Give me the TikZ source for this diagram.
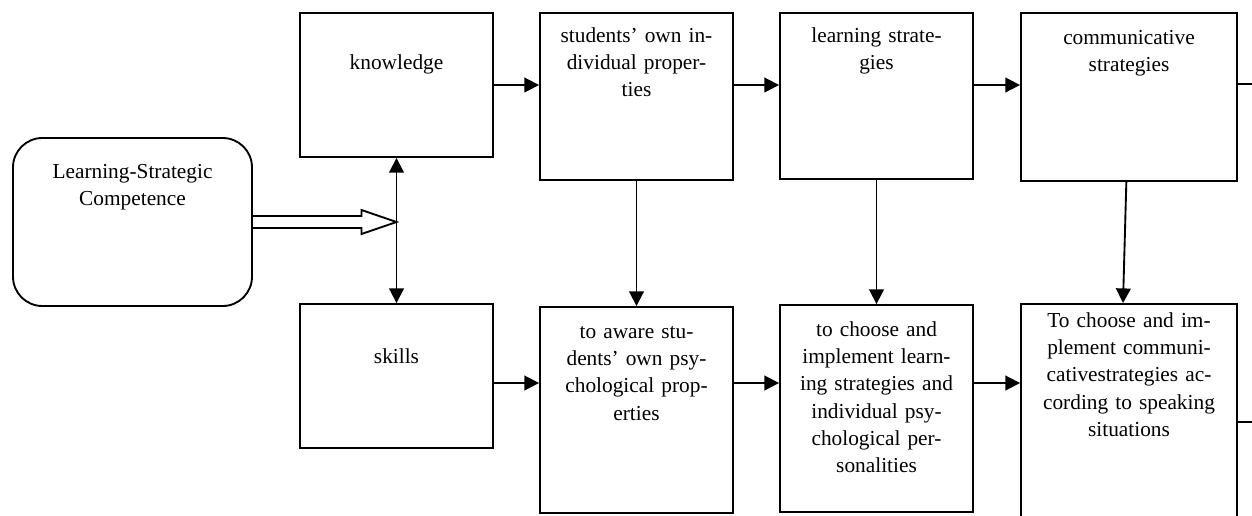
\documentclass[tikz,border=0pt]{standalone}
\usepackage{fontspec}
\setmainfont{Liberation Serif}
\usetikzlibrary{arrows.meta,positioning}
\tikzset{
  box/.style={draw, line width=1.4pt, minimum width=144.75pt, inner sep=0pt},
  txt/.style={text width=150pt, align=center, inner sep=0pt,
    font=\fontsize{16}{20.5}\selectfont, execute at begin node=\strut},
  arr/.style={line width=1.4pt, -{Triangle[length=11pt,width=11pt]}},
  darr/.style={line width=1.4pt, {Triangle[length=11pt,width=11pt]}-{Triangle[length=11pt,width=11pt]}},
}
\begin{document}
\begin{tikzpicture}[x=0.75pt, y=-0.75pt]
    \clip (0,0) rectangle (1252,515);
    \node[box, rounded corners=22pt, minimum width=179.25pt, minimum height=126pt] (LSC) at (132.5,222) {};
    \node[box, minimum height=108pt] (K) at (396.5,85) {};
    \node[box, minimum height=108pt] (S) at (396.5,376) {};
    \node[box, minimum height=125.25pt] (SP) at (636.5,96.5) {};
    \node[box, minimum height=154.5pt] (AP) at (636.5,410) {};
    \node[box, minimum height=124.5pt] (LS) at (876.5,96) {};
    \node[box, minimum height=155.25pt] (IL) at (876.5,408.5) {};
    \node[box, minimum width=162pt, minimum height=126pt] (CS) at (1129,97) {};
    \node[box, minimum width=162pt, minimum height=192pt] (IC) at (1129,432) {};
    \node[txt, below=16.5pt of LSC.north] (LSCt) {Learning-Strategic\\Competence};
    \node[txt, below=28.5pt of K.north] (Kt) {knowledge};
    \node[txt, below=30.5pt of S.north] (St) {skills};
    \node[txt, below=8pt of SP.north] (SPt) {students’ own in-\\dividual proper-\\ties};
    \node[txt, below=9.5pt of AP.north] (APt) {to aware stu-\\dents’ own psy-\\chological prop-\\erties};
    \node[txt, below=8pt of LS.north] (LSt) {learning strate-\\gies};
    \node[txt, below=9.5pt of IL.north] (ILt) {to choose and\\implement learn-\\ing strategies and\\individual psy-\\chological per-\\sonalities};
    \node[txt, below=9.5pt of CS.north] (CSt) {communicative\\strategies};
    \node[txt, below=3.5pt of IC.north] (ICt) {To choose and im-\\plement communi-\\cativestrategies ac-\\cording to speaking\\situations};
    \coordinate (top) at (0,85);
    \coordinate (bot) at (0,383);
    \coordinate (outA) at (1252,84);
    \coordinate (outB) at (1252,422);
    \coordinate (tip) at (K.south |- LSC.east);
    \draw[line width=1.4pt] ([yshift=4.5pt]LSC.east) -- ([xshift=-26.25pt,yshift=4.5pt]tip) -- ([xshift=-26.25pt,yshift=9pt]tip) -- (tip) -- ([xshift=-26.25pt,yshift=-9pt]tip) -- ([xshift=-26.25pt,yshift=-4.5pt]tip) -- ([yshift=-4.5pt]LSC.east);
    \path [darr] (K.south) edge (S.north);
    \path [arr] (K.east |- top) edge (top -| SP.west);
    \path [arr] (SP.east |- top) edge (top -| LS.west);
    \path [arr] (LS.east |- top) edge (top -| CS.west);
    \path [arr] (S.east |- bot) edge (bot -| AP.west);
    \path [arr] (AP.east |- bot) edge (bot -| IL.west);
    \path [arr] (IL.east |- bot) edge (bot -| IC.west);
    \path [arr] (SP.south) edge (SP.south |- AP.north);
    \path [arr] (LS.south) edge (LS.south |- IL.north);
    \path [arr] ([xshift=-2pt]CS.south) edge ([xshift=-4.5pt]IC.north);
    \draw[line width=1.4pt] (outA -| CS.east) -- (outA);
    \draw[line width=1.4pt] (outB -| IC.east) -- (outB);
\end{tikzpicture}
\end{document}
